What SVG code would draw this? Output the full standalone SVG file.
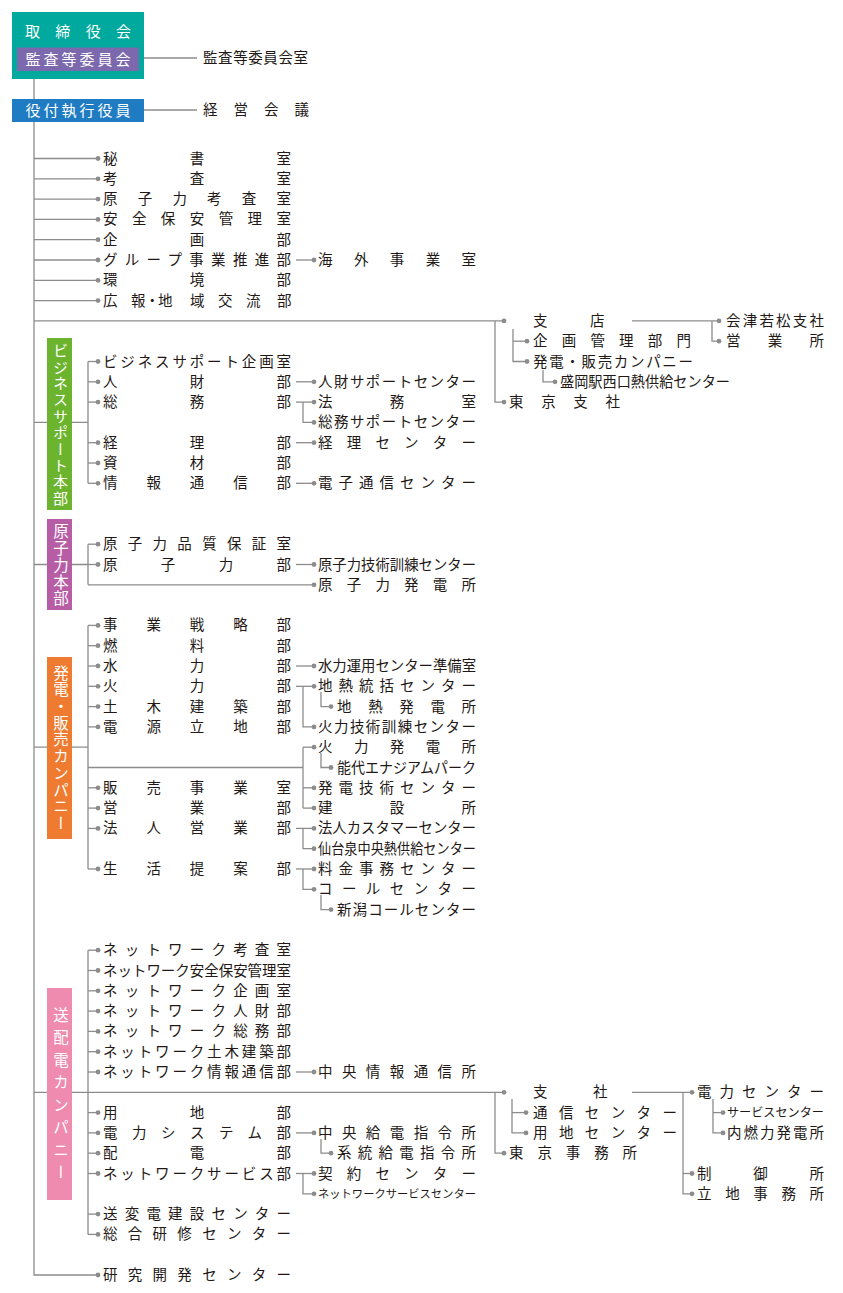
<svg xmlns="http://www.w3.org/2000/svg" width="843" height="1293" viewBox="0 0 843 1293">
<style>
.t{font-family:"Liberation Sans","Noto Sans CJK JP","Noto Sans CJK SC",sans-serif;font-size:14.5px;fill:#231815}
.w{font-family:"Liberation Sans","Noto Sans CJK JP","Noto Sans CJK SC",sans-serif;font-size:15px;fill:#ffffff}
.v{font-family:"Liberation Sans","Noto Sans CJK JP","Noto Sans CJK SC",sans-serif;font-size:15.5px;fill:#ffffff;writing-mode:vertical-rl}
.ln{stroke:#8c8c8c;stroke-width:1.3;fill:none}
.m{marker-end:url(#dot)}
</style>
<defs>
<marker id="dot" viewBox="0 0 6 6" refX="3" refY="3" markerWidth="6" markerHeight="6" markerUnits="userSpaceOnUse"><circle cx="3" cy="3" r="2.4" fill="#8c8c8c"/></marker>
</defs>
<rect width="843" height="1293" fill="#ffffff"/>
<g id="connectors" class="ln">
<path d="M139 58H197"/>
<path d="M144 110H197"/>
<path class="m" d="M34 79V1275H98"/>
<path class="m" d="M34 158.5H98"/>
<path class="m" d="M34 178.8H98"/>
<path class="m" d="M34 199.1H98"/>
<path class="m" d="M34 219.4H98"/>
<path class="m" d="M34 239.7H98"/>
<path class="m" d="M34 260H98"/>
<path class="m" d="M34 280.3H98"/>
<path class="m" d="M34 300.6H98"/>
<path class="m" d="M296 260H314"/>
<path class="m" d="M34 320.9H504"/>
<path class="m" d="M495 320.9V402.1H504"/>
<path class="m" d="M513 329V361.5H527"/>
<path class="m" d="M513 341.2H527"/>
<path class="m" d="M543 370V381.8H555"/>
<path class="m" d="M632 320.9H719"/>
<path class="m" d="M712 320.9V341.2H719"/>
<path d="M34 422.4H88"/>
<path d="M88 361.5V483.3"/>
<path class="m" d="M88 361.5H98"/>
<path class="m" d="M88 381.8H98"/>
<path class="m" d="M88 402.1H98"/>
<path class="m" d="M88 442.7H98"/>
<path class="m" d="M88 463H98"/>
<path class="m" d="M88 483.3H98"/>
<path class="m" d="M296 381.8H314"/>
<path class="m" d="M296 402.1H314"/>
<path class="m" d="M303 402.1V422.4H314"/>
<path class="m" d="M296 442.7H314"/>
<path class="m" d="M296 483.3H314"/>
<path d="M34 564.5H88"/>
<path d="M88 544.2V584.8"/>
<path class="m" d="M88 544.2H98"/>
<path class="m" d="M88 564.5H98"/>
<path class="m" d="M88 584.8H314"/>
<path class="m" d="M296 564.5H314"/>
<path d="M34 747.2H88"/>
<path d="M88 625.4V869"/>
<path class="m" d="M88 625.4H98"/>
<path class="m" d="M88 645.7H98"/>
<path class="m" d="M88 666H98"/>
<path class="m" d="M88 686.3H98"/>
<path class="m" d="M88 706.6H98"/>
<path class="m" d="M88 726.9H98"/>
<path class="m" d="M88 787.8H98"/>
<path class="m" d="M88 808.1H98"/>
<path class="m" d="M88 828.4H98"/>
<path class="m" d="M88 869H98"/>
<path d="M88 767.5H303"/>
<path d="M303 747.2V808.1"/>
<path class="m" d="M303 747.2H314"/>
<path class="m" d="M303 787.8H314"/>
<path class="m" d="M303 808.1H314"/>
<path class="m" d="M321 753V767.5H331"/>
<path class="m" d="M296 666H314"/>
<path class="m" d="M296 686.3H314"/>
<path class="m" d="M303 686.3V726.9H314"/>
<path class="m" d="M321 692V706.6H331"/>
<path class="m" d="M296 828.4H314"/>
<path class="m" d="M303 828.4V848.7H314"/>
<path class="m" d="M296 869H314"/>
<path class="m" d="M303 869V889.3H314"/>
<path class="m" d="M321 895V909.6H331"/>
<path d="M34 1092.3H88"/>
<path d="M88 950.2V1234.4"/>
<path class="m" d="M88 950.2H98"/>
<path class="m" d="M88 970.5H98"/>
<path class="m" d="M88 990.8H98"/>
<path class="m" d="M88 1011.1H98"/>
<path class="m" d="M88 1031.4H98"/>
<path class="m" d="M88 1051.7H98"/>
<path class="m" d="M88 1072H98"/>
<path class="m" d="M88 1112.6H98"/>
<path class="m" d="M88 1132.9H98"/>
<path class="m" d="M88 1153.2H98"/>
<path class="m" d="M88 1173.5H98"/>
<path class="m" d="M88 1214.1H98"/>
<path class="m" d="M88 1234.4H98"/>
<path class="m" d="M296 1072H314"/>
<path class="m" d="M88 1092.3H504"/>
<path class="m" d="M495 1092.3V1153.2H504"/>
<path class="m" d="M512 1099V1132.9H526"/>
<path class="m" d="M512 1112.6H526"/>
<path class="m" d="M632 1092.3H692"/>
<path class="m" d="M683 1092.3V1193.8H692"/>
<path class="m" d="M683 1173.5H692"/>
<path class="m" d="M713 1099V1132.9H723"/>
<path class="m" d="M713 1112.6H723"/>
<path class="m" d="M296 1132.9H314"/>
<path class="m" d="M321 1139V1153.2H331"/>
<path class="m" d="M296 1173.5H314"/>
<path class="m" d="M303 1173.5V1193.8H314"/>
</g>
<g id="board"><rect x="12" y="12" width="132" height="67" fill="#00a99d"/><text class="w" x="25" y="36.5" textLength="106" lengthAdjust="spacing">取締役会</text></g>
<g id="audit"><rect x="17" y="47.5" width="122" height="23.5" fill="#7b68ad"/><text class="w" x="25.5" y="64.5" textLength="105" lengthAdjust="spacing">監査等委員会</text></g>
<g id="audit-office"><text class="t" x="203" y="63" textLength="105" lengthAdjust="spacing">監査等委員会室</text></g>
<g id="executive"><rect x="12" y="99" width="132" height="23" fill="#1f7bc2"/><text class="w" x="25.5" y="116" textLength="105" lengthAdjust="spacing">役付執行役員</text></g>
<g id="mgmt-meeting"><text class="t" x="203" y="115" textLength="106" lengthAdjust="spacing">経営会議</text></g>
<g id="n-k0"><text class="t" x="103" y="163.5" textLength="188" lengthAdjust="spacing">秘書室</text></g>
<g id="n-k1"><text class="t" x="103" y="183.8" textLength="188" lengthAdjust="spacing">考査室</text></g>
<g id="n-k2"><text class="t" x="103" y="204.1" textLength="188" lengthAdjust="spacing">原子力考査室</text></g>
<g id="n-k3"><text class="t" x="103" y="224.4" textLength="188" lengthAdjust="spacing">安全保安管理室</text></g>
<g id="n-k4"><text class="t" x="103" y="244.7" textLength="188" lengthAdjust="spacing">企画部</text></g>
<g id="n-k5"><text class="t" x="103" y="265" textLength="188" lengthAdjust="spacing">グループ事業推進部</text></g>
<g id="n-k5b"><text class="t" x="318" y="265" textLength="158" lengthAdjust="spacing">海外事業室</text></g>
<g id="n-k6"><text class="t" x="103" y="285.3" textLength="188" lengthAdjust="spacing">環境部</text></g>
<g id="n-k7"><text class="t" x="103 131 145 158 190 218 246 277" y="305.6">広報・地域交流部</text></g>
<g id="n-branch"><text class="t" x="533 590" y="325.9">支店</text></g>
<g id="n-aizu"><text class="t" x="726" y="325.9" textLength="98" lengthAdjust="spacing">会津若松支社</text></g>
<g id="n-eigyosho"><text class="t" x="726" y="346.2" textLength="98" lengthAdjust="spacing">営業所</text></g>
<g id="n-kikaku"><text class="t" x="533" y="346.2" textLength="158" lengthAdjust="spacing">企画管理部門</text></g>
<g id="n-genhan"><text class="t" x="533" y="366.5" textLength="160" lengthAdjust="spacing">発電・販売カンパニー</text></g>
<g id="n-morioka"><text class="t" x="560" y="386.8" textLength="170" lengthAdjust="spacingAndGlyphs">盛岡駅西口熱供給センター</text></g>
<g id="n-tokyo-shisha"><text class="t" x="509" y="407.1" textLength="111" lengthAdjust="spacing">東京支社</text></g>
<g id="bs-hq"><rect x="47" y="338" width="25" height="172" fill="#6cb42e"/><text class="v" x="59.5" y="425" text-anchor="middle" style="font-size:15px;letter-spacing:1.4px">ビジネスサポート本部</text></g>
<g id="n-k10"><text class="t" x="103" y="366.5" textLength="188" lengthAdjust="spacing">ビジネスサポート企画室</text></g>
<g id="n-k11"><text class="t" x="103" y="386.8" textLength="188" lengthAdjust="spacing">人財部</text></g>
<g id="n-k11b"><text class="t" x="318" y="386.8" textLength="158" lengthAdjust="spacing">人財サポートセンター</text></g>
<g id="n-k12"><text class="t" x="103" y="407.1" textLength="188" lengthAdjust="spacing">総務部</text></g>
<g id="n-k12b"><text class="t" x="318" y="407.1" textLength="158" lengthAdjust="spacing">法務室</text></g>
<g id="n-k13b"><text class="t" x="318" y="427.4" textLength="158" lengthAdjust="spacing">総務サポートセンター</text></g>
<g id="n-k14"><text class="t" x="103" y="447.7" textLength="188" lengthAdjust="spacing">経理部</text></g>
<g id="n-k14b"><text class="t" x="318" y="447.7" textLength="158" lengthAdjust="spacing">経理センター</text></g>
<g id="n-k15"><text class="t" x="103" y="468" textLength="188" lengthAdjust="spacing">資材部</text></g>
<g id="n-k16"><text class="t" x="103" y="488.3" textLength="188" lengthAdjust="spacing">情報通信部</text></g>
<g id="n-k16b"><text class="t" x="318" y="488.3" textLength="158" lengthAdjust="spacing">電子通信センター</text></g>
<g id="nuc-hq"><rect x="47" y="519" width="25" height="91" fill="#b65da6"/><text class="v" x="59.5" y="565.5" text-anchor="middle" style="font-size:15.5px;letter-spacing:1.4px">原子力本部</text></g>
<g id="n-k19"><text class="t" x="103" y="549.2" textLength="188" lengthAdjust="spacing">原子力品質保証室</text></g>
<g id="n-k20"><text class="t" x="103" y="569.5" textLength="188" lengthAdjust="spacing">原子力部</text></g>
<g id="n-k20b"><text class="t" x="318" y="569.5" textLength="158" lengthAdjust="spacingAndGlyphs">原子力技術訓練センター</text></g>
<g id="n-k21b"><text class="t" x="318" y="589.8" textLength="158" lengthAdjust="spacing">原子力発電所</text></g>
<g id="gen-co"><rect x="47" y="657" width="25" height="182" fill="#ee7b2f"/><text class="v" x="59.5" y="748.5" text-anchor="middle" style="letter-spacing:1.2px">発電・販売カンパニー</text></g>
<g id="n-k23"><text class="t" x="103" y="630.4" textLength="188" lengthAdjust="spacing">事業戦略部</text></g>
<g id="n-k24"><text class="t" x="103" y="650.7" textLength="188" lengthAdjust="spacing">燃料部</text></g>
<g id="n-k25"><text class="t" x="103" y="671" textLength="188" lengthAdjust="spacing">水力部</text></g>
<g id="n-k25b"><text class="t" x="318" y="671" textLength="158" lengthAdjust="spacingAndGlyphs">水力運用センター準備室</text></g>
<g id="n-k26"><text class="t" x="103" y="691.3" textLength="188" lengthAdjust="spacing">火力部</text></g>
<g id="n-k26b"><text class="t" x="318" y="691.3" textLength="158" lengthAdjust="spacing">地熱統括センター</text></g>
<g id="n-k27"><text class="t" x="103" y="711.6" textLength="188" lengthAdjust="spacing">土木建築部</text></g>
<g id="n-k27c"><text class="t" x="337" y="711.6" textLength="139" lengthAdjust="spacing">地熱発電所</text></g>
<g id="n-k28"><text class="t" x="103" y="731.9" textLength="188" lengthAdjust="spacing">電源立地部</text></g>
<g id="n-k28b"><text class="t" x="318" y="731.9" textLength="158" lengthAdjust="spacing">火力技術訓練センター</text></g>
<g id="n-k29b"><text class="t" x="318" y="752.2" textLength="158" lengthAdjust="spacing">火力発電所</text></g>
<g id="n-k30c"><text class="t" x="337" y="772.5" textLength="139" lengthAdjust="spacingAndGlyphs">能代エナジアムパーク</text></g>
<g id="n-k31"><text class="t" x="103" y="792.8" textLength="188" lengthAdjust="spacing">販売事業室</text></g>
<g id="n-k31b"><text class="t" x="318" y="792.8" textLength="158" lengthAdjust="spacing">発電技術センター</text></g>
<g id="n-k32"><text class="t" x="103" y="813.1" textLength="188" lengthAdjust="spacing">営業部</text></g>
<g id="n-k32b"><text class="t" x="318" y="813.1" textLength="158" lengthAdjust="spacing">建設所</text></g>
<g id="n-k33"><text class="t" x="103" y="833.4" textLength="188" lengthAdjust="spacing">法人営業部</text></g>
<g id="n-k33b"><text class="t" x="318" y="833.4" textLength="158" lengthAdjust="spacingAndGlyphs">法人カスタマーセンター</text></g>
<g id="n-k34b"><text class="t" x="318" y="853.7" textLength="158" lengthAdjust="spacingAndGlyphs">仙台泉中央熱供給センター</text></g>
<g id="n-k35"><text class="t" x="103" y="874" textLength="188" lengthAdjust="spacing">生活提案部</text></g>
<g id="n-k35b"><text class="t" x="318" y="874" textLength="158" lengthAdjust="spacing">料金事務センター</text></g>
<g id="n-k36b"><text class="t" x="318" y="894.3" textLength="158" lengthAdjust="spacing">コールセンター</text></g>
<g id="n-k37c"><text class="t" x="337" y="914.6" textLength="139" lengthAdjust="spacing">新潟コールセンター</text></g>
<g id="td-co"><rect x="47" y="988" width="25" height="212" fill="#ee8bae"/><text class="v" x="59.5" y="1097" text-anchor="middle" style="letter-spacing:7px">送配電カンパニー</text></g>
<g id="n-k39"><text class="t" x="103" y="955.2" textLength="188" lengthAdjust="spacing">ネットワーク考査室</text></g>
<g id="n-k40"><text class="t" x="103" y="975.5" textLength="188" lengthAdjust="spacingAndGlyphs">ネットワーク安全保安管理室</text></g>
<g id="n-k41"><text class="t" x="103" y="995.8" textLength="188" lengthAdjust="spacing">ネットワーク企画室</text></g>
<g id="n-k42"><text class="t" x="103" y="1016.1" textLength="188" lengthAdjust="spacing">ネットワーク人財部</text></g>
<g id="n-k43"><text class="t" x="103" y="1036.4" textLength="188" lengthAdjust="spacing">ネットワーク総務部</text></g>
<g id="n-k44"><text class="t" x="103" y="1056.7" textLength="188" lengthAdjust="spacing">ネットワーク土木建築部</text></g>
<g id="n-k45"><text class="t" x="103" y="1077" textLength="188" lengthAdjust="spacing">ネットワーク情報通信部</text></g>
<g id="n-k45b"><text class="t" x="318" y="1077" textLength="158" lengthAdjust="spacing">中央情報通信所</text></g>
<g id="n-shisha"><text class="t" x="533 593" y="1097.3">支社</text></g>
<g id="n-tsushin"><text class="t" x="533" y="1117.6" textLength="144" lengthAdjust="spacing">通信センター</text></g>
<g id="n-yochi-c"><text class="t" x="533" y="1137.9" textLength="144" lengthAdjust="spacing">用地センター</text></g>
<g id="n-tokyo-jimusho"><text class="t" x="509" y="1158.2" textLength="128" lengthAdjust="spacing">東京事務所</text></g>
<g id="n-denryoku-c"><text class="t" x="697" y="1097.3" textLength="127" lengthAdjust="spacing">電力センター</text></g>
<g id="n-service-c"><text class="t" x="727" y="1117" style="font-size:12px" textLength="97" lengthAdjust="spacingAndGlyphs">サービスセンター</text></g>
<g id="n-nainen"><text class="t" x="727" y="1137.9" textLength="97" lengthAdjust="spacing">内燃力発電所</text></g>
<g id="n-seigyo"><text class="t" x="697" y="1178.5" textLength="127" lengthAdjust="spacing">制御所</text></g>
<g id="n-ritchi"><text class="t" x="697" y="1198.8" textLength="127" lengthAdjust="spacing">立地事務所</text></g>
<g id="n-k47"><text class="t" x="103" y="1117.6" textLength="188" lengthAdjust="spacing">用地部</text></g>
<g id="n-k48"><text class="t" x="103" y="1137.9" textLength="188" lengthAdjust="spacing">電力システム部</text></g>
<g id="n-k48b"><text class="t" x="318" y="1137.9" textLength="158" lengthAdjust="spacing">中央給電指令所</text></g>
<g id="n-k49"><text class="t" x="103" y="1158.2" textLength="188" lengthAdjust="spacing">配電部</text></g>
<g id="n-k49c"><text class="t" x="337" y="1158.2" textLength="139" lengthAdjust="spacing">系統給電指令所</text></g>
<g id="n-k50"><text class="t" x="103" y="1178.5" textLength="188" lengthAdjust="spacing">ネットワークサービス部</text></g>
<g id="n-k50b"><text class="t" x="318" y="1178.5" textLength="158" lengthAdjust="spacing">契約センター</text></g>
<g id="n-k51b"><text class="t" x="318" y="1198" style="font-size:11.5px" textLength="158" lengthAdjust="spacingAndGlyphs">ネットワークサービスセンター</text></g>
<g id="n-k52"><text class="t" x="103" y="1219.1" textLength="188" lengthAdjust="spacing">送変電建設センター</text></g>
<g id="n-k53"><text class="t" x="103" y="1239.4" textLength="188" lengthAdjust="spacing">総合研修センター</text></g>
<g id="n-k55"><text class="t" x="103" y="1280" textLength="188" lengthAdjust="spacing">研究開発センター</text></g>
</svg>
